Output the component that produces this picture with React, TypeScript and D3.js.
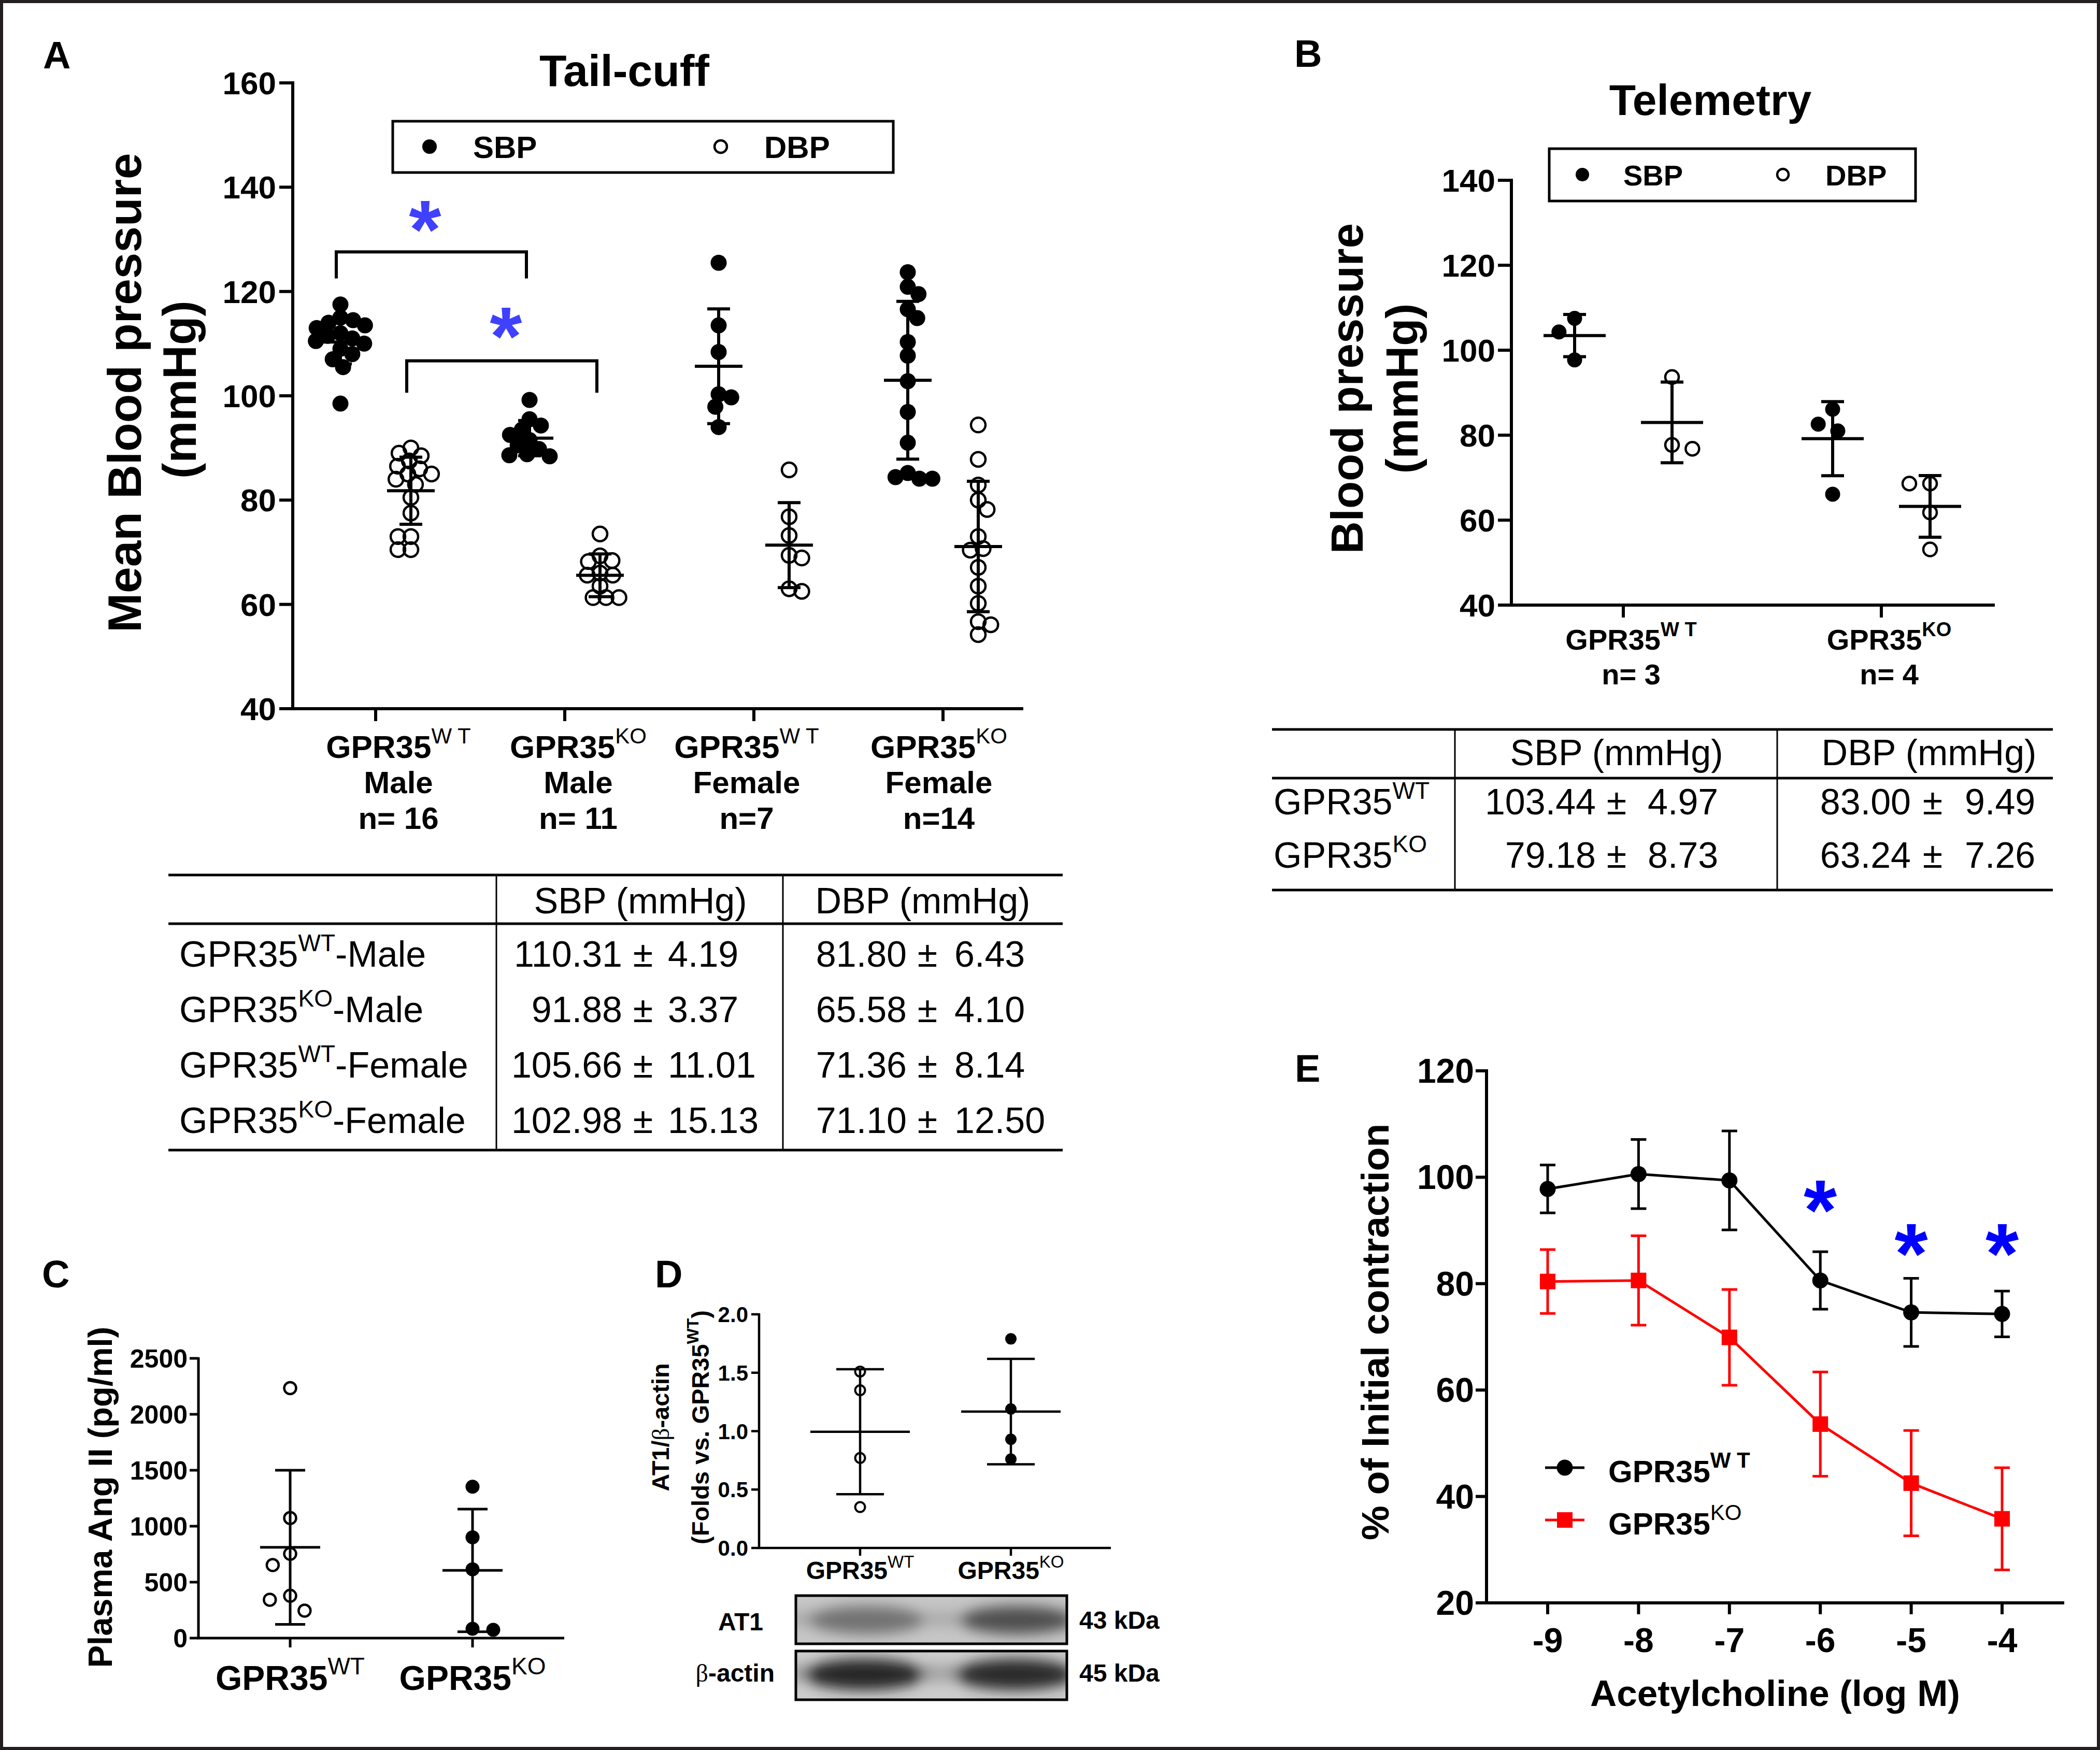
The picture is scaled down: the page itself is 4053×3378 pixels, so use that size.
import React from 'react';
import * as d3 from 'd3';

const W = 4053;
const H = 3378;
const FONT = "'Liberation Sans', Arial, Helvetica, sans-serif";

// ---------------- Panel A data (tail-cuff) ----------------
const groupsA = ['WT-Male', 'KO-Male', 'WT-Female', 'KO-Female'];
const genoA = ['WT', 'KO', 'WT', 'KO'];
const sexA = ['Male', 'Male', 'Female', 'Female'];
const nLabelA = ['n= 16', 'n= 11', 'n=7', 'n=14'];
const sbpA = [
  [117.5, 115, 114.5, 114, 113.5, 113, 112, 111.5, 111, 110.5, 110, 109, 108, 107, 105.5, 98.5],
  [99.2, 95.5, 94.3, 93.5, 92.5, 91.5, 90.5, 89.8, 88.8, 88.6, 88.4],
  [125.5, 113.5, 108.4, 100.3, 99.7, 97.9, 94.0],
  [123.7, 120.9, 119.5, 116.6, 114.9, 110.3, 107.7, 102.8, 96.9, 91.0, 85.2, 84.4, 84.1, 84.1],
];
const dbpA = [
  [90, 89, 88.5, 87.5, 86.5, 86, 85, 85, 84, 83, 80.5, 77.5, 73, 73, 70.5, 70.5],
  [73.5, 69.3, 68.4, 68.2, 66, 65.6, 65.6, 63.5, 61.3, 61.3, 61.3],
  [85.8, 76.8, 73.2, 69.4, 68.9, 63.0, 62.5],
  [94.4, 87.8, 82.9, 80.0, 78.2, 73.0, 70.7, 70.4, 67.1, 63.5, 60.2, 56.7, 56.1, 54.2],
];
const sbpMeanA = [110.31, 91.88, 105.66, 102.98];
const sbpSdA = [4.19, 3.37, 11.01, 15.13];
const dbpMeanA = [81.8, 65.58, 71.36, 71.1];
const dbpSdA = [6.43, 4.1, 8.14, 12.5];
const ticksA = [40, 60, 80, 100, 120, 140, 160];
// significance brackets
const bracketSeriesA = ['sbp', 'dbp'];
const bracketFromA = [0, 0];
const bracketToA = [1, 1];
const bracketTopA = [127.6, 106.7];
const bracketLegA = [122.5, 100.6];
const bracketStarA = [133.6, 113.1];

// ---------------- Panel B data (telemetry) ----------------
const groupsB = ['WT', 'KO'];
const nLabelB = ['n= 3', 'n= 4'];
const sbpB = [[107.5, 104.3, 97.7], [86.1, 82.6, 81.0, 66.1]];
const dbpB = [[93.7, 77.7, 76.8], [68.6, 68.6, 61.8, 53.1]];
const sbpMeanB = [103.44, 79.18];
const sbpSdB = [4.97, 8.73];
const dbpMeanB = [83.0, 63.24];
const dbpSdB = [9.49, 7.26];
const ticksB = [40, 60, 80, 100, 120, 140];

// ---------------- Panel C data (plasma Ang II) ----------------
const groupsC = ['WT', 'KO'];
const angWT = [2234, 1073, 753, 653, 378, 343, 245];
const angKO = [1353, 901, 615, 83, 74];
const ticksC = [0, 500, 1000, 1500, 2000, 2500];

// ---------------- Panel D data (AT1 / beta-actin) ----------------
const groupsD = ['WT', 'KO'];
const at1WT = [1.51, 1.35, 0.77, 0.35];
const at1KO = [1.79, 1.19, 0.93, 0.76];
const ticksD = [0, 0.5, 1.0, 1.5, 2.0];
const bandAT1 = [0.5, 0.68];
const bandActin = [0.9, 0.88];

// ---------------- Panel E data (ACh relaxation) ----------------
const dosesE = [-9, -8, -7, -6, -5, -4];
const wtMeanE = [97.8, 100.6, 99.4, 80.6, 74.6, 74.3];
const wtSemE = [4.5, 6.5, 9.3, 5.4, 6.4, 4.3];
const koMeanE = [80.4, 80.6, 69.9, 53.6, 42.5, 35.8];
const koSemE = [6.0, 8.4, 9.0, 9.8, 9.9, 9.6];
const starDosesE = [-6, -5, -4];
const starLevelE = [95.5, 87.3, 87.3];
const ticksEy = [20, 40, 60, 80, 100, 120];

// layout nudges for the category labels of panel A (label centres are not exactly on the ticks)
const labelNudgeA = [44, 26, -14, -8];
const STAR_RISE = 0.45;

// simple deterministic beeswarm: each point placed nearest the column centre without overlap
function swarm(values: number[], y: (v: number) => number, cx: number, dist: number) {
  const placed: { v: number; x: number; y: number }[] = [];
  const sorted = [...values].sort((a, b) => b - a);
  sorted.forEach((v, k) => {
    const py = y(v);
    const cands = [0];
    placed.forEach((p) => {
      const dy = Math.abs(p.y - py);
      if (dy < dist) {
        const dx = Math.sqrt(dist * dist - dy * dy);
        cands.push(p.x - cx + dx, p.x - cx - dx);
      }
    });
    const pref = k % 2 === 0 ? 1 : -1;
    cands.sort((a, b) => Math.abs(a) - Math.abs(b) || (b - a) * pref);
    let off = 0;
    for (const c of cands) {
      const ok = placed.every((p) => (p.x - (cx + c)) ** 2 + (p.y - py) ** 2 >= dist * dist - 0.5);
      if (ok) {
        off = c;
        break;
      }
    }
    placed.push({ v, x: cx + off, y: py });
  });
  return placed;
}

const SupText = (p: any) => (
  <text
    x={p.x}
    y={p.y}
    fontSize={p.fs}
    fontWeight={p.weight ?? 'bold'}
    textAnchor={p.anchor ?? 'middle'}
    fontFamily={FONT}
    transform={p.transform}
    fill={p.fill ?? '#000'}
  >
    {p.base}
    <tspan dy={-p.rise} fontSize={p.sfs} fontWeight={p.sw ?? p.weight ?? 'bold'}>
      {p.sup}
    </tspan>
    {p.after ? <tspan dy={p.rise}>{p.after}</tspan> : null}
  </text>
);

const MeanSD = (p: any) => {
  const { cx, y, mean, sd, half, cap, sw } = p;
  return (
    <g stroke={p.color ?? '#000'} strokeWidth={sw} fill="none">
      <line x1={cx - half} x2={cx + half} y1={y(mean)} y2={y(mean)} />
      <line x1={cx} x2={cx} y1={y(mean + sd)} y2={y(mean - sd)} />
      <line x1={cx - cap} x2={cx + cap} y1={y(mean + sd)} y2={y(mean + sd)} />
      <line x1={cx - cap} x2={cx + cap} y1={y(mean - sd)} y2={y(mean - sd)} />
    </g>
  );
};

const Dots = (p: any) => (
  <g>
    {p.pts.map((d: any, i: number) =>
      p.open ? (
        <circle key={i} cx={d.x} cy={d.y} r={p.r} fill="none" stroke="#000" strokeWidth={p.sw} />
      ) : (
        <circle key={i} cx={d.x} cy={d.y} r={p.r} fill="#000" />
      )
    )}
  </g>
);

const Star = (p: any) => (
  <text x={p.x} y={p.y + STAR_RISE * p.fs} fontSize={p.fs} fontWeight="bold" textAnchor="middle" fill={p.fill} fontFamily={FONT}>
    *
  </text>
);

function PanelA() {
  const y = d3.scaleLinear().domain([40, 160]).range([1368, 160]);
  const x = d3.scalePoint<string>().domain(groupsA).range([725, 1820]);
  const off = 68;
  const axX = 565;
  const axY = y(40);
  const colX = (i: number, s: string) => (x(groupsA[i]) as number) + (s === 'sbp' ? -off : off);
  return (
    <g fontFamily={FONT}>
      <text x={83} y={132} fontSize={74} fontWeight="bold">A</text>
      <text x={1205} y={166} fontSize={86} fontWeight="bold" textAnchor="middle">Tail-cuff</text>
      <g stroke="#000" strokeWidth={6}>
        <line x1={axX} x2={axX} y1={y(160) - 3} y2={axY + 3} />
        <line x1={axX - 3} x2={1975} y1={axY} y2={axY} />
        {ticksA.map((t) => (
          <line key={t} x1={axX - 26} x2={axX} y1={y(t)} y2={y(t)} />
        ))}
        {groupsA.map((g) => (
          <line key={g} x1={x(g)} x2={x(g)} y1={axY} y2={axY + 24} />
        ))}
      </g>
      {ticksA.map((t) => (
        <text key={t} x={533} y={y(t) + 22} fontSize={62} fontWeight="bold" textAnchor="end">{t}</text>
      ))}
      {groupsA.map((g, i) => {
        const lx = (x(g) as number) + labelNudgeA[i];
        return (
          <g key={g}>
            <SupText x={lx} y={1463} fs={62} base="GPR35" sup={genoA[i] === 'WT' ? 'W T' : 'KO'} sfs={42} rise={28} sw="normal" />
            <text x={lx} y={1531} fontSize={60} fontWeight="bold" textAnchor="middle">{sexA[i]}</text>
            <text x={lx} y={1600} fontSize={60} fontWeight="bold" textAnchor="middle">{nLabelA[i]}</text>
          </g>
        );
      })}
      <text transform="translate(272,758) rotate(-90)" fontSize={91} fontWeight="bold" textAnchor="middle">Mean Blood pressure</text>
      <text transform="translate(378,752) rotate(-90)" fontSize={91} fontWeight="bold" textAnchor="middle">(mmHg)</text>
      <rect x={758} y={234} width={966} height={99} fill="none" stroke="#000" strokeWidth={5} />
      <circle cx={829} cy={283} r={14} fill="#000" />
      <text x={913} y={305} fontSize={60} fontWeight="bold">SBP</text>
      <circle cx={1391} cy={283} r={12} fill="none" stroke="#000" strokeWidth={4.5} />
      <text x={1475} y={305} fontSize={60} fontWeight="bold">DBP</text>
      {groupsA.map((g, i) => (
        <g key={g}>
          <Dots pts={swarm(sbpA[i], y, colX(i, 'sbp'), 25)} r={15.5} />
          <Dots pts={swarm(dbpA[i], y, colX(i, 'dbp'), 25)} r={14} open sw={4.5} />
          <MeanSD cx={colX(i, 'sbp')} y={y} mean={sbpMeanA[i]} sd={sbpSdA[i]} half={46} cap={22} sw={6} />
          <MeanSD cx={colX(i, 'dbp')} y={y} mean={dbpMeanA[i]} sd={dbpSdA[i]} half={46} cap={22} sw={6} />
        </g>
      ))}
      {bracketSeriesA.map((s, k) => {
        const x1 = colX(bracketFromA[k], s) - 8;
        const x2 = colX(bracketToA[k], s) - 6;
        return (
          <g key={k}>
            <path
              d={`M${x1},${y(bracketLegA[k])}V${y(bracketTopA[k])}H${x2}V${y(bracketLegA[k])}`}
              fill="none"
              stroke="#000"
              strokeWidth={6}
            />
            <Star x={(x1 + x2) / 2 + (k === 0 ? -12 : 8)} y={y(bracketStarA[k])} fs={160} fill="#4040ff" />
          </g>
        );
      })}
    </g>
  );
}

function TableA() {
  const left = 325, right = 2051, top = 1689, head = 1783, bottom = 2220, v1 = 958, v2 = 1511;
  const row0 = 1866, step = 107, pmS = 1241, pmD = 1790;
  return (
    <g fontFamily={FONT} fontSize={70}>
      <g stroke="#000" strokeWidth={5}>
        <line x1={left} x2={right} y1={top} y2={top} />
        <line x1={left} x2={right} y1={head} y2={head} />
        <line x1={left} x2={right} y1={bottom} y2={bottom} />
      </g>
      <g stroke="#000" strokeWidth={3}>
        <line x1={v1} x2={v1} y1={top} y2={bottom} />
        <line x1={v2} x2={v2} y1={top} y2={bottom} />
      </g>
      <text x={1236} y={1763} textAnchor="middle">SBP (mmHg)</text>
      <text x={1781} y={1763} textAnchor="middle">DBP (mmHg)</text>
      {groupsA.map((g, i) => {
        const yy = row0 + i * step;
        return (
          <g key={g}>
            <SupText x={346} y={yy} anchor="start" fs={70} weight="normal" base="GPR35" sup={genoA[i]} sfs={46} rise={30} after={'-' + sexA[i]} />
            <text x={pmS - 40} y={yy} textAnchor="end">{sbpMeanA[i].toFixed(2)}</text>
            <text x={pmS} y={yy} textAnchor="middle">±</text>
            <text x={pmS + 48} y={yy}>{sbpSdA[i].toFixed(2)}</text>
            <text x={pmD - 40} y={yy} textAnchor="end">{dbpMeanA[i].toFixed(2)}</text>
            <text x={pmD} y={yy} textAnchor="middle">±</text>
            <text x={pmD + 52} y={yy}>{dbpSdA[i].toFixed(2)}</text>
          </g>
        );
      })}
    </g>
  );
}

function PanelB() {
  const y = d3.scaleLinear().domain([40, 140]).range([1168, 348]);
  const x = d3.scalePoint<string>().domain(groupsB).range([3133, 3631]);
  const off = 94;
  const axX = 2917;
  const axY = y(40);
  const colX = (i: number, s: string) => (x(groupsB[i]) as number) + (s === 'sbp' ? -off : off);
  return (
    <g fontFamily={FONT}>
      <text x={2498} y={129} fontSize={74} fontWeight="bold">B</text>
      <text x={3301} y={222} fontSize={84} fontWeight="bold" textAnchor="middle">Telemetry</text>
      <g stroke="#000" strokeWidth={6}>
        <line x1={axX} x2={axX} y1={y(140) - 3} y2={axY + 3} />
        <line x1={axX - 3} x2={3850} y1={axY} y2={axY} />
        {ticksB.map((t) => (
          <line key={t} x1={axX - 26} x2={axX} y1={y(t)} y2={y(t)} />
        ))}
        {groupsB.map((g) => (
          <line key={g} x1={x(g)} x2={x(g)} y1={axY} y2={axY + 24} />
        ))}
      </g>
      {ticksB.map((t) => (
        <text key={t} x={2886} y={y(t) + 22} fontSize={62} fontWeight="bold" textAnchor="end">{t}</text>
      ))}
      {groupsB.map((g, i) => (
        <g key={g}>
          <SupText x={(x(g) as number) + 15} y={1254} fs={56} base="GPR35" sup={g === 'WT' ? 'W T' : 'KO'} sfs={38} rise={26} sw="bold" />
          <text x={(x(g) as number) + 15} y={1321} fontSize={56} fontWeight="bold" textAnchor="middle">{nLabelB[i]}</text>
        </g>
      ))}
      <text transform="translate(2630,750) rotate(-90)" fontSize={87} fontWeight="bold" textAnchor="middle">Blood pressure</text>
      <text transform="translate(2736,750) rotate(-90)" fontSize={87} fontWeight="bold" textAnchor="middle">(mmHg)</text>
      <rect x={2990} y={287} width={707} height={101} fill="none" stroke="#000" strokeWidth={5} />
      <circle cx={3054} cy={337} r={13} fill="#000" />
      <text x={3133} y={358} fontSize={56} fontWeight="bold">SBP</text>
      <circle cx={3441} cy={337} r={11} fill="none" stroke="#000" strokeWidth={4.5} />
      <text x={3523} y={358} fontSize={56} fontWeight="bold">DBP</text>
      {groupsB.map((g, i) => (
        <g key={g}>
          <Dots pts={swarm(sbpB[i], y, colX(i, 'sbp'), 40)} r={14.5} />
          <Dots pts={swarm(dbpB[i], y, colX(i, 'dbp'), 40)} r={13} open sw={4.5} />
          <MeanSD cx={colX(i, 'sbp')} y={y} mean={sbpMeanB[i]} sd={sbpSdB[i]} half={60} cap={22} sw={6} />
          <MeanSD cx={colX(i, 'dbp')} y={y} mean={dbpMeanB[i]} sd={dbpSdB[i]} half={60} cap={22} sw={6} />
        </g>
      ))}
    </g>
  );
}

function TableB() {
  const left = 2455, right = 3962, top = 1408, head = 1502, bottom = 1718, v1 = 2808, v2 = 3430;
  const row0 = 1572, step = 103, pmS = 3120, pmD = 3730;
  return (
    <g fontFamily={FONT} fontSize={70}>
      <g stroke="#000" strokeWidth={5}>
        <line x1={left} x2={right} y1={top} y2={top} />
        <line x1={left} x2={right} y1={head} y2={head} />
        <line x1={left} x2={right} y1={bottom} y2={bottom} />
      </g>
      <g stroke="#000" strokeWidth={3}>
        <line x1={v1} x2={v1} y1={top} y2={bottom} />
        <line x1={v2} x2={v2} y1={top} y2={bottom} />
      </g>
      <text x={3120} y={1477} textAnchor="middle">SBP (mmHg)</text>
      <text x={3723} y={1477} textAnchor="middle">DBP (mmHg)</text>
      {groupsB.map((g, i) => {
        const yy = row0 + i * step;
        return (
          <g key={g}>
            <SupText x={2458} y={yy} anchor="start" fs={70} weight="normal" base="GPR35" sup={g} sfs={46} rise={30} />
            <text x={pmS - 40} y={yy} textAnchor="end">{sbpMeanB[i].toFixed(2)}</text>
            <text x={pmS} y={yy} textAnchor="middle">±</text>
            <text x={pmS + 60} y={yy}>{sbpSdB[i].toFixed(2)}</text>
            <text x={pmD - 42} y={yy} textAnchor="end">{dbpMeanB[i].toFixed(2)}</text>
            <text x={pmD} y={yy} textAnchor="middle">±</text>
            <text x={pmD + 62} y={yy}>{dbpSdB[i].toFixed(2)}</text>
          </g>
        );
      })}
    </g>
  );
}

function PanelC() {
  const y = d3.scaleLinear().domain([0, 2500]).range([3162, 2622]);
  const x = d3.scalePoint<string>().domain(groupsC).range([560, 912]);
  const axX = 383;
  const axY = y(0);
  const data = [angWT, angKO];
  return (
    <g fontFamily={FONT}>
      <text x={81} y={2485} fontSize={74} fontWeight="bold">C</text>
      <g stroke="#000" strokeWidth={5}>
        <line x1={axX} x2={axX} y1={y(2500) - 2} y2={axY + 2} />
        <line x1={axX - 2} x2={1089} y1={axY} y2={axY} />
        {ticksC.map((t) => (
          <line key={t} x1={axX - 17} x2={axX} y1={y(t)} y2={y(t)} />
        ))}
        {groupsC.map((g) => (
          <line key={g} x1={x(g)} x2={x(g)} y1={axY} y2={axY + 18} />
        ))}
      </g>
      {ticksC.map((t) => (
        <text key={t} x={362} y={y(t) + 18} fontSize={50} fontWeight="bold" textAnchor="end">{t}</text>
      ))}
      {groupsC.map((g) => (
        <SupText key={g} x={x(g)} y={3262} fs={66} base="GPR35" sup={g} sfs={46} rise={30} sw="normal" />
      ))}
      <text transform="translate(216,2890) rotate(-90)" fontSize={65} fontWeight="bold" textAnchor="middle">Plasma Ang II (pg/ml)</text>
      {groupsC.map((g, i) => (
        <g key={g}>
          <Dots pts={swarm(data[i], y, x(g) as number, 40)} r={i === 0 ? 11.5 : 13.5} open={i === 0} sw={4.5} />
          <MeanSD cx={x(g)} y={y} mean={d3.mean(data[i])} sd={d3.deviation(data[i])} half={58} cap={29} sw={5} />
        </g>
      ))}
    </g>
  );
}

function PanelD() {
  const y = d3.scaleLinear().domain([0, 2]).range([2988, 2537]);
  const x = d3.scalePoint<string>().domain(groupsD).range([1660, 1951]);
  const axX = 1465;
  const axY = y(0);
  const data = [at1WT, at1KO];
  const fmt = d3.format('.1f');
  const band = d3.interpolateRgb('#cfcfcf', '#141414');
  const at1Box = { x: 1536, y: 3080, w: 523, h: 93 };
  const actBox = { x: 1536, y: 3187, w: 523, h: 94 };
  return (
    <g fontFamily={FONT}>
      <defs>
        <filter id="blotBlur" x="-50%" y="-100%" width="200%" height="300%">
          <feGaussianBlur stdDeviation="13" />
        </filter>
        <clipPath id="clipAT1">
          <rect x={at1Box.x} y={at1Box.y} width={at1Box.w} height={at1Box.h} />
        </clipPath>
        <clipPath id="clipAct">
          <rect x={actBox.x} y={actBox.y} width={actBox.w} height={actBox.h} />
        </clipPath>
      </defs>
      <text x={1264} y={2485} fontSize={74} fontWeight="bold">D</text>
      <g stroke="#000" strokeWidth={4.5}>
        <line x1={axX} x2={axX} y1={y(2) - 2} y2={axY + 2} />
        <line x1={axX - 2} x2={2144} y1={axY} y2={axY} />
        {ticksD.map((t) => (
          <line key={t} x1={axX - 15} x2={axX} y1={y(t)} y2={y(t)} />
        ))}
        {groupsD.map((g) => (
          <line key={g} x1={x(g)} x2={x(g)} y1={axY} y2={axY + 15} />
        ))}
      </g>
      {ticksD.map((t) => (
        <text key={t} x={1444} y={y(t) + 15} fontSize={42} fontWeight="bold" textAnchor="end">{fmt(t)}</text>
      ))}
      {groupsD.map((g) => (
        <SupText key={g} x={x(g)} y={3048} fs={48} base="GPR35" sup={g} sfs={33} rise={22} sw="normal" />
      ))}
      <text transform="translate(1291,2755) rotate(-90)" fontSize={47} fontWeight="bold" textAnchor="middle">
        AT1/<tspan fontFamily="'Liberation Serif', 'DejaVu Serif', serif" fontWeight="normal">β</tspan>-actin
      </text>
      <SupText transform="translate(1368,2755) rotate(-90)" x={0} y={0} fs={47} base="(Folds vs. GPR35" sup="WT" sfs={32} rise={20} after=")" />
      {groupsD.map((g, i) => (
        <g key={g}>
          <Dots pts={swarm(data[i], y, x(g) as number, 24)} r={i === 0 ? 9.5 : 11} open={i === 0} sw={4} />
          <MeanSD cx={x(g)} y={y} mean={d3.mean(data[i])} sd={d3.deviation(data[i])} half={96} cap={46} sw={4.5} />
        </g>
      ))}
      <rect x={at1Box.x} y={at1Box.y} width={at1Box.w} height={at1Box.h} fill="#c6c6c6" />
      <g clipPath="url(#clipAT1)">
        <g filter="url(#blotBlur)">
          <rect x={at1Box.x - 20} y={3112} width={at1Box.w + 40} height={26} fill="#a9a9a9" />
          {groupsD.map((g, i) => (
            <ellipse key={g} cx={(x(g) as number) + 12} cy={3127} rx={112} ry={27} fill={band(bandAT1[i])} />
          ))}
        </g>
      </g>
      <rect x={at1Box.x} y={at1Box.y} width={at1Box.w} height={at1Box.h} fill="none" stroke="#000" strokeWidth={5} />
      <rect x={actBox.x} y={actBox.y} width={actBox.w} height={actBox.h} fill="#cdcdcd" />
      <g clipPath="url(#clipAct)">
        <g filter="url(#blotBlur)">
          <rect x={actBox.x - 20} y={3215} width={actBox.w + 40} height={30} fill="#a0a0a0" />
          {groupsD.map((g, i) => (
            <ellipse key={g} cx={(x(g) as number) + 8} cy={3232} rx={118} ry={30} fill={band(bandActin[i])} />
          ))}
        </g>
      </g>
      <rect x={actBox.x} y={actBox.y} width={actBox.w} height={actBox.h} fill="none" stroke="#000" strokeWidth={5} />
      <text x={1473} y={3147} fontSize={48} fontWeight="bold" textAnchor="end">AT1</text>
      <text x={1495} y={3246} fontSize={48} fontWeight="bold" textAnchor="end">
        <tspan fontFamily="'Liberation Serif', 'DejaVu Serif', serif" fontWeight="normal">β</tspan>-actin
      </text>
      <text x={2083} y={3144} fontSize={48} fontWeight="bold">43 kDa</text>
      <text x={2083} y={3246} fontSize={48} fontWeight="bold">45 kDa</text>
    </g>
  );
}

function PanelE() {
  const y = d3.scaleLinear().domain([20, 120]).range([3094, 2067]);
  const x = d3.scaleLinear().domain([-9, -4]).range([2987, 3864]);
  const axX = 2869;
  const axY = y(20);
  const line = d3
    .line<number>()
    .x((d, i) => x(dosesE[i]))
    .y((d) => y(d));
  const cap = 15;
  const bars = (means: number[], sems: number[], color: string) => (
    <g stroke={color} strokeWidth={5} fill="none">
      {dosesE.map((d, i) => (
        <g key={d}>
          <line x1={x(d)} x2={x(d)} y1={y(means[i] + sems[i])} y2={y(means[i] - sems[i])} />
          <line x1={x(d) - cap} x2={x(d) + cap} y1={y(means[i] + sems[i])} y2={y(means[i] + sems[i])} />
          <line x1={x(d) - cap} x2={x(d) + cap} y1={y(means[i] - sems[i])} y2={y(means[i] - sems[i])} />
        </g>
      ))}
    </g>
  );
  return (
    <g fontFamily={FONT}>
      <text x={2499} y={2088} fontSize={74} fontWeight="bold">E</text>
      <g stroke="#000" strokeWidth={6}>
        <line x1={axX} x2={axX} y1={y(120) - 3} y2={axY + 3} />
        <line x1={axX - 3} x2={3984} y1={axY} y2={axY} />
        {ticksEy.map((t) => (
          <line key={t} x1={axX - 21} x2={axX} y1={y(t)} y2={y(t)} />
        ))}
        {dosesE.map((d) => (
          <line key={d} x1={x(d)} x2={x(d)} y1={axY} y2={axY + 22} />
        ))}
      </g>
      {ticksEy.map((t) => (
        <text key={t} x={2845} y={y(t) + 23} fontSize={66} fontWeight="bold" textAnchor="end">{t}</text>
      ))}
      {dosesE.map((d) => (
        <text key={d} x={x(d)} y={3189} fontSize={66} fontWeight="bold" textAnchor="middle">{d}</text>
      ))}
      <text x={3426} y={3293} fontSize={71} fontWeight="bold" textAnchor="middle">Acetylcholine (log M)</text>
      <text transform="translate(2680,2571) rotate(-90)" fontSize={75} fontWeight="bold" textAnchor="middle">% of Initial contraction</text>
      {bars(koMeanE, koSemE, '#ff0000')}
      <path d={line(koMeanE) as string} fill="none" stroke="#ff0000" strokeWidth={5} />
      {dosesE.map((d, i) => (
        <rect key={d} x={x(d) - 15} y={y(koMeanE[i]) - 15} width={30} height={30} fill="#ff0000" />
      ))}
      {bars(wtMeanE, wtSemE, '#000')}
      <path d={line(wtMeanE) as string} fill="none" stroke="#000" strokeWidth={5} />
      {dosesE.map((d, i) => (
        <circle key={d} cx={x(d)} cy={y(wtMeanE[i])} r={15.5} fill="#000" />
      ))}
      {starDosesE.map((d, i) => (
        <Star key={d} x={x(d)} y={y(starLevelE[i])} fs={165} fill="#0000ff" />
      ))}
      <line x1={2982} x2={3058} y1={2833} y2={2833} stroke="#000" strokeWidth={5} />
      <circle cx={3020} cy={2833} r={15.5} fill="#000" />
      <SupText x={3104} y={2861} anchor="start" fs={60} base="GPR35" sup="W T" sfs={42} rise={28} />
      <line x1={2982} x2={3058} y1={2934} y2={2934} stroke="#ff0000" strokeWidth={5} />
      <rect x={3005} y={2919} width={30} height={30} fill="#ff0000" />
      <SupText x={3104} y={2962} anchor="start" fs={60} base="GPR35" sup="KO" sfs={42} rise={28} sw="normal" />
    </g>
  );
}

export default function App() {
  return (
    <svg
      width={W}
      height={H}
      viewBox={`0 0 ${W} ${H}`}
      style={{ position: 'absolute', left: 0, top: 0, display: 'block', background: '#fff' }}
      xmlns="http://www.w3.org/2000/svg"
    >
      <rect x={0} y={0} width={W} height={H} fill="#fff" />
      <PanelA />
      <TableA />
      <PanelB />
      <TableB />
      <PanelC />
      <PanelD />
      <PanelE />
      <rect x={3} y={3} width={W - 6} height={H - 6} fill="none" stroke="#231f20" strokeWidth={6} />
    </svg>
  );
}
